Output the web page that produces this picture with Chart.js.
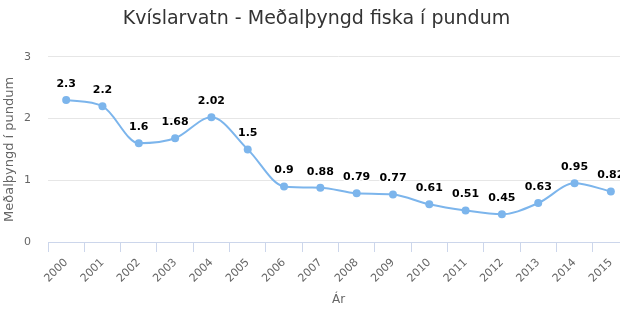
<!DOCTYPE html>
<html>
<head>
<meta charset="utf-8">
<script src="https://cdn.jsdelivr.net/npm/chart.js@4.4.1/dist/chart.umd.min.js"></script>
<style>
  html, body { margin: 0; padding: 0; background: #fff; overflow: hidden; }
  #wrap { width: 633px; height: 330px; }
</style>
</head>
<body>
<div id="wrap"><canvas id="chart"></canvas></div>
<script>
const years = ['2000', '2001', '2002', '2003', '2004', '2005', '2006', '2007',
               '2008', '2009', '2010', '2011', '2012', '2013', '2014', '2015'];
const weights = [2.3, 2.2, 1.6, 1.68, 2.02, 1.5, 0.9, 0.88, 0.79, 0.77, 0.61, 0.51, 0.45, 0.63, 0.95, 0.82];
const yMin = 0;
const yMax = 3;

const FONT = '"DejaVu Sans", Verdana, sans-serif';
const LINE = '#7cb5ec';

// labels above each point, black with a white halo
const pointLabels = {
    id: 'pointLabels',
    afterDatasetsDraw(chart) {
        let ctx = chart.ctx;
        let meta = chart.getDatasetMeta(0);
        ctx.save();
        ctx.font = 'bold 11px ' + FONT;
        ctx.textAlign = 'center';
        ctx.textBaseline = 'middle';
        ctx.lineJoin = 'round';
        meta.data.forEach((pt, i) => {
            let txt = String(weights[i]);
            ctx.lineWidth = 3;
            ctx.strokeStyle = '#fff';
            ctx.strokeText(txt, pt.x, pt.y - 16);
            ctx.fillStyle = '#000';
            ctx.fillText(txt, pt.x, pt.y - 16);
        });
        ctx.restore();
    }
};

new Chart(document.getElementById('chart').getContext('2d'), {
    type: 'line',
    data: {
        labels: years,
        datasets: [{
            label: 'Meðalþyngd',
            data: weights,
            borderColor: LINE,
            backgroundColor: LINE,
            borderWidth: 2,
            cubicInterpolationMode: 'monotone',
            pointRadius: 4,
            pointBorderWidth: 0,
            pointBackgroundColor: LINE,
            fill: false
        }]
    },
    options: {
        responsive: true,
        maintainAspectRatio: false,
        animation: false,
        events: [],
        layout: { padding: 0 },
        plugins: {
            legend: { display: false },
            tooltip: { enabled: false },
            title: {
                display: true,
                text: 'Kvíslarvatn - Meðalþyngd fiska í pundum',
                color: '#333333',
                font: { family: FONT, size: 19, weight: 'normal' },
                padding: { top: 8, bottom: 26 }
            }
        },
        scales: {
            x: {
                offset: true,
                afterFit(scale) { scale.height = 88; },
                grid: {
                    offset: true,
                    drawOnChartArea: false,
                    drawTicks: true,
                    tickLength: 10,
                    tickColor: '#ccd6eb'
                },
                border: { color: '#ccd6eb', width: 1 },
                ticks: {
                    minRotation: 45,
                    maxRotation: 45,
                    autoSkip: false,
                    color: '#666',
                    padding: 4,
                    font: { family: FONT, size: 11 }
                },
                title: {
                    display: true,
                    text: 'Ár',
                    color: '#666',
                    font: { family: FONT, size: 12 },
                    padding: { top: 0, bottom: 23 }
                }
            },
            y: {
                min: yMin,
                max: yMax,
                afterFit(scale) { scale.width = 48; },
                grid: { color: '#e6e6e6', drawTicks: false },
                border: { display: false },
                ticks: {
                    stepSize: 1,
                    color: '#666',
                    padding: 17,
                    font: { family: FONT, size: 11 }
                },
                title: {
                    display: true,
                    text: 'Meðalþyngd í pundum',
                    color: '#666',
                    font: { family: FONT, size: 13 },
                    padding: { top: 2, bottom: 0 }
                }
            }
        }
    },
    plugins: [pointLabels]
});
</script>
</body>
</html>
